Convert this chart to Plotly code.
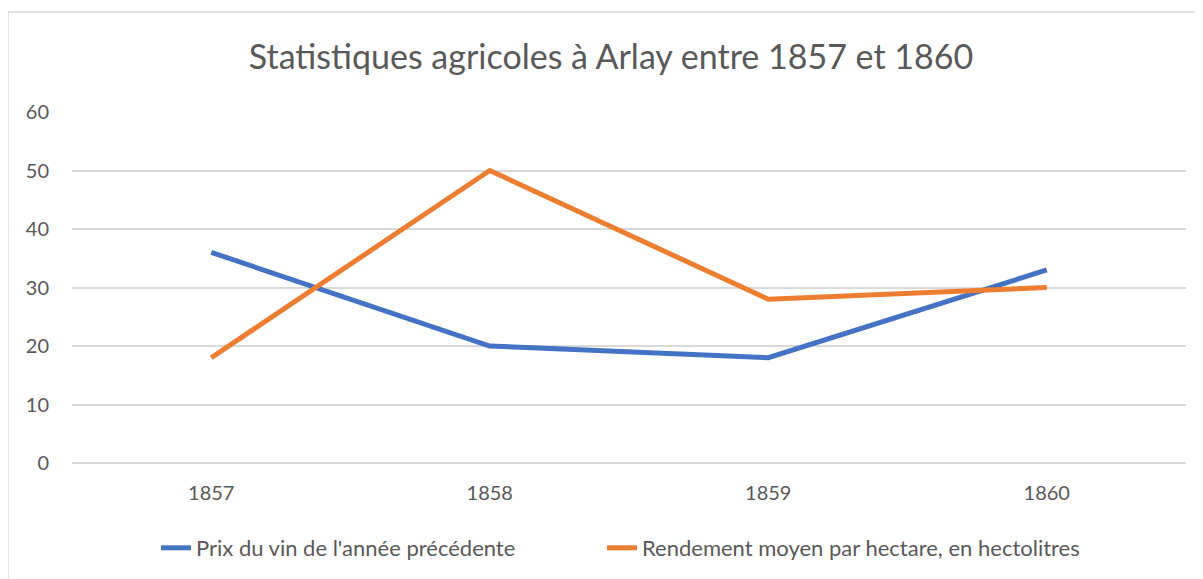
import plotly.graph_objects as go

years = ["1857", "1858", "1859", "1860"]
prix_vin = [36, 20, 18, 33]
rendement = [18, 50, 28, 30]
y_ticks = [0, 10, 20, 30, 40, 50, 60]

title_text = "Statistiques agricoles à Arlay entre 1857 et 1860"
name_prix = "Prix du vin de l'année précédente"
name_rend = "Rendement moyen par hectare, en hectolitres"

FONT = "Lato, 'Open Sans', sans-serif"
GREY = "#595959"

fig = go.Figure()
fig.add_trace(go.Scatter(x=years, y=prix_vin, mode="lines", name=name_prix,
                         line=dict(color="#4472C4", width=5), legend="legend"))
fig.add_trace(go.Scatter(x=years, y=rendement, mode="lines", name=name_rend,
                         line=dict(color="#ED7D31", width=5), legend="legend2"))

W, H = 1203, 579
OFF = 8  # page body offset
ml, mt = 72 - OFF, 112 - OFF
pw, ph = 1114, 351
mr, mb = W - ml - pw, H - mt - ph

leg_y = -(548 - OFF - (mt + ph)) / ph
leg_common = dict(orientation="h", xanchor="left", y=leg_y, yanchor="middle",
                  font=dict(size=22, color=GREY), itemwidth=30,
                  bgcolor="rgba(0,0,0,0)")

fig.update_layout(
    width=W, height=H,
    margin=dict(l=ml, r=mr, t=mt, b=mb),
    paper_bgcolor="white", plot_bgcolor="white",
    font=dict(family=FONT, color=GREY, size=20),
    title=dict(text=title_text, x=(611 - OFF) / W, xanchor="center",
               y=1 - (57 - OFF) / H, yanchor="middle",
               font=dict(family=FONT, size=34, color=GREY)),
    xaxis=dict(type="category", range=[-0.5, 3.5], showgrid=False, showline=False,
               ticks="", ticklabelstandoff=16,
               tickfont=dict(size=20, color=GREY), fixedrange=True),
    yaxis=dict(range=[0, 60], tickvals=y_ticks, showgrid=True, gridcolor="#d9d9d9",
               gridwidth=1.5, zeroline=True, zerolinecolor="#d9d9d9", zerolinewidth=1.5,
               showline=False, ticks="", ticklabelstandoff=22,
               tickfont=dict(size=20, color=GREY)),
    legend=dict(x=(148 - ml) / pw, **leg_common),
    legend2=dict(x=(594 - ml) / pw, **leg_common),
    showlegend=True,
)

# outer chart border (Excel chart area frame)
fig.add_shape(type="rect", xref="paper", yref="paper",
              x0=(8 - OFF - ml) / pw, x1=(W + 20 - ml) / pw,
              y0=-(H + 20 - mt - ph) / ph, y1=1 + (mt - (12 - OFF)) / ph,
              line=dict(color="#d9d9d9", width=1.5), layer="below")

fig.write_html("out.html")
